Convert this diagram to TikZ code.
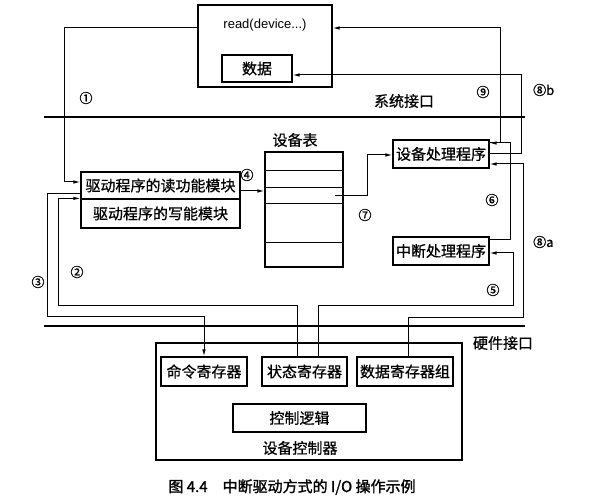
\documentclass[tikz,border=0pt]{standalone}
\usepackage{fontspec}
\setmainfont{Noto Sans CJK SC}
\newfontfamily\latinsf{Liberation Sans}
\newfontfamily\boxfont[FakeBold=0.8]{Noto Sans CJK SC}
\newfontfamily\capfont[FakeBold=1.5]{Noto Sans CJK SC}
\usetikzlibrary{arrows.meta}

\begin{document}
\begin{tikzpicture}[x=1pt,y=-1pt,
  every node/.style={font=\boxfont\fontsize{15}{17}\selectfont,inner sep=0pt},
  box/.style 2 args={draw,line width=1.2pt,minimum width=#1pt,minimum height=#2pt},
  link/.style={line width=1pt},
  arr/.style={link,-{Latex[length=7pt,width=3.5pt]}},
  iface/.style={line width=1.8pt},
  num/.style={font=\boxfont\fontsize{13}{13}\selectfont}]
  \useasboundingbox (0,0) rectangle (591,502);
  \node[box={134}{82}] (readbox) at (265,46) {};
  \node[font=\latinsf\fontsize{13}{15}\selectfont] (readtxt) at (265,25) {read(device...)};
  \node[box={70}{27}] (databox) at (257,68.5) {数据};
  \draw[iface] (44,117) coordinate (sysl) -- (525,117) coordinate (sysr);
  \node (syslabel) at (404,101) {系统接口};
  \node[box={159}{27}] (readmod) at (160.5,185.5) {驱动程序的读功能模块};
  \node[box={159}{29}] (writemod) at (160.5,213.5) {驱动程序的写能模块};
  \node[box={78}{115}] (devtab) at (304,209.5) {};
  \foreach \y in {171,188,204,243}
    \draw[link] (devtab.west |- 0,\y) -- (devtab.east |- 0,\y);
  \node (tablabel) at (295,140) {设备表};
  \coordinate (tabrow) at (335,196);
  \node[box={96}{28}] (devhandler) at (441,154) {设备处理程序};
  \node[box={96}{28}] (inthandler) at (441,251) {中断处理程序};
  \draw[iface] (44,326) coordinate (hwl) -- (525,326) coordinate (hwr);
  \node (hwlabel) at (503,343) {硬件接口};
  \node[box={306}{117}] (ctrl) at (309,401.5) {};
  \node[box={86}{29}] (cmdreg) at (204,371.5) {命令寄存器};
  \node[box={85}{29}] (statreg) at (304.5,371.5) {状态寄存器};
  \node[box={96}{29}] (datareg) at (405,371.5) {数据寄存器组};
  \node[box={133}{28}] (logic) at (299.5,418) {控制逻辑};
  \node (ctrllabel) at (300,448) {设备控制器};
  \draw[arr] (readbox.west |- 0,28) -| (64,182) -- (readmod.west |- 0,182);
  \draw[arr] (statreg.north -| 297,0) |- (58,306) |- (writemod.north west);
  \draw[arr] (readmod.west |- 0,194) -| (47,316) -| (cmdreg.north);
  \draw[arr] (readmod.east |- 0,191) -- (devtab.west |- 0,191);
  \draw[arr] (statreg.north -| 318,0) |- (513,306) |- (inthandler.east |- 0,253);
  \draw[arr] (inthandler.east |- 0,240) -| (510,143) -- (devhandler.east |- 0,143);
  \draw[arr] (tabrow) -| (367,155) -- (devhandler.west |- 0,155);
  \draw[arr] (datareg.north -| 408,0) |- (523,317) |- (devhandler.east |- 0,164);
  \draw[arr] (devhandler.east |- 0,154) -| (521,75) -- (databox.east |- 0,75);
  \draw[arr] (devhandler.east |- 0,143) -| (500,28) -- (readbox.east |- 0,28);
  \node[num] (n1) at (86,98) {①};
  \node[num] (n2) at (77,272) {②};
  \node[num] (n3) at (38,282) {③};
  \node[num] (n4) at (247,175) {④};
  \node[num] (n5) at (493,290) {⑤};
  \node[num] (n6) at (492,200) {⑥};
  \node[num] (n7) at (365,215) {⑦};
  \node[num,anchor=west] (n8a) at (533,242) {⑧a};
  \node[num,anchor=west] (n8b) at (533,90) {⑧b};
  \node[num] (n9) at (483,92) {⑨};
  \node[font=\capfont\fontsize{15}{17}\selectfont] (caption) at (292,487) {图 4.4\quad 中断驱动方式的 I/O 操作示例};
\end{tikzpicture}
\end{document}
